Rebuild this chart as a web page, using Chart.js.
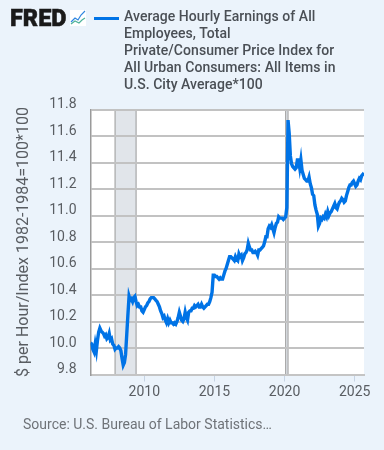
<!DOCTYPE html>
<html>
<head>
<meta charset="utf-8">
<title>FRED chart</title>
<script src="https://cdn.jsdelivr.net/npm/chart.js@4"></script>
<style>
  body { margin: 0; background: #ebf3fb; font-family: Roboto, sans-serif; }
  #wrap { position: relative; width: 384px; height: 450px; overflow: hidden; }
  canvas { position: absolute; left: 0; top: 0; }
  #logo { position: absolute; left: 10px; top: 5px; font: 900 23.5px/26px Roboto, sans-serif; color: #1a1a1a; letter-spacing: 0; -webkit-text-stroke: 0.5px #1a1a1a; }
  #icon { position: absolute; left: 70px; top: 10px; }
  #swatch { position: absolute; left: 94px; top: 16.5px; width: 25px; height: 3px; background: #0073e6; }
  #legend { position: absolute; left: 124px; top: 8px; width: 218px; font: 500 14px/17px Roboto, sans-serif; color: #4a4f55; letter-spacing: 0.05px; }
  #source { position: absolute; left: 23px; top: 416px; font: 400 14px/17px Roboto, sans-serif; color: #6f7378; }
</style>
</head>
<body>
<div id="wrap">
  <canvas id="fredChart" width="384" height="450"></canvas>
  <div id="logo">FRED</div>
  <svg id="icon" width="16" height="16">
    <rect width="16" height="16" fill="#fff"/>
    <polyline points="1,12 5,8 8,10 11,5 15,1" fill="none" stroke="#2f86e0" stroke-width="1.2"/>
    <polyline points="1,14 5,11 9,13 12,10 15,8" fill="none" stroke="#4fb39a" stroke-width="1.2"/>
  </svg>
  <div id="swatch"></div>
  <div id="legend">Average Hourly Earnings of All Employees, Total Private/Consumer Price Index for All Urban Consumers: All Items in U.S. City Average*100</div>
  <div id="source">Source: U.S. Bureau of Labor Statistics…</div>
</div>
<script>
// monthly values, Mar 2006 to Sep 2025
const earnings = [
  10.04, 10.03, 9.99, 9.97, 10.03, 9.98, 10.06, 10.12, 10.15, 10.13,
  10.12, 10.11, 10.09, 10.10, 10.07, 10.08, 10.11, 10.06, 10.07, 10.03, 10.02, 9.99,
  10.00, 10.00, 10.01, 10.00, 9.98, 9.92, 9.87, 9.89, 9.95, 10.10, 10.25, 10.39,
  10.36, 10.37, 10.35, 10.38, 10.39, 10.35, 10.32, 10.33, 10.31, 10.31, 10.28, 10.27,
  10.29, 10.31, 10.32, 10.34, 10.35, 10.37, 10.38, 10.38, 10.38, 10.37, 10.36, 10.35,
  10.33, 10.31, 10.28, 10.26, 10.23, 10.24, 10.21, 10.19, 10.22, 10.19, 10.21, 10.19,
  10.19, 10.18, 10.19, 10.18, 10.20, 10.23, 10.27, 10.24, 10.21, 10.20, 10.22, 10.27,
  10.23, 10.21, 10.27, 10.28, 10.28, 10.30, 10.30, 10.32, 10.31, 10.32, 10.33, 10.31,
  10.31, 10.33, 10.31, 10.30, 10.31, 10.32, 10.33, 10.33, 10.35, 10.38, 10.42, 10.55,
  10.55, 10.54, 10.54, 10.53, 10.52, 10.53, 10.52, 10.52, 10.55, 10.58, 10.60, 10.63,
  10.66, 10.69, 10.69, 10.68, 10.67, 10.66, 10.69, 10.67, 10.66, 10.71, 10.69, 10.70,
  10.66, 10.68, 10.71, 10.72, 10.74, 10.79, 10.76, 10.74, 10.74, 10.72, 10.72, 10.73,
  10.72, 10.70, 10.74, 10.74, 10.75, 10.76, 10.77, 10.80, 10.84, 10.84, 10.90, 10.92,
  10.91, 10.93, 10.90, 10.87, 10.91, 10.94, 10.95, 10.99, 10.98, 10.98, 10.98, 10.97,
  10.98, 10.99, 11.06, 11.72, 11.62, 11.45, 11.39, 11.37, 11.36, 11.35, 11.36, 11.42,
  11.42, 11.36, 11.42, 11.34, 11.31, 11.28, 11.27, 11.26, 11.26, 11.29, 11.24, 11.21,
  11.16, 11.15, 11.08, 11.04, 11.01, 10.92, 10.94, 10.98, 10.97, 10.99, 10.98, 11.01,
  10.99, 11.03, 11.00, 11.02, 11.03, 11.05, 11.07, 11.09, 11.06, 11.05, 11.08, 11.10,
  11.11, 11.13, 11.12, 11.10, 11.11, 11.15, 11.18, 11.21, 11.23, 11.23, 11.25, 11.26,
  11.24, 11.22, 11.23, 11.26, 11.28, 11.27, 11.30, 11.31, 11.30
];
const startYear = 2006 + 2 / 12;
const endYear = 2025 + 8 / 12;
const yearTicks = [2010, 2015, 2020, 2025];
const yMin = 9.8;
const yMax = 11.8;
const recessionStarts = [2007 + 11 / 12, 2020 + 1 / 12];
const recessionEnds = [2009 + 5 / 12, 2020 + 3 / 12];

const points = earnings.map((v, i) => ({ x: startYear + i / 12, y: v }));

// white plot background and the shaded recessions, under the grid lines
const recessionBands = {
  id: 'recessionBands',
  afterUpdate(chart) {
    // FRED puts its y labels above the grid lines, a bit more than baseline bottom gives
    chart.scales.y.getLabelItems().forEach(item => { item.options.translation[1] += 2; });
  },
  beforeDraw(chart) {
    const { ctx, chartArea: a, scales: { x } } = chart;
    ctx.save();
    ctx.fillStyle = '#ffffff';
    ctx.fillRect(a.left, a.top, a.right - a.left, a.bottom - a.top);
    recessionStarts.forEach((start, i) => {
      const x0 = x.getPixelForValue(start);
      const x1 = x.getPixelForValue(recessionEnds[i]);
      ctx.fillStyle = '#e1e5ea';
      ctx.fillRect(x0, a.top, x1 - x0, a.bottom - a.top);
      ctx.strokeStyle = '#999999';
      ctx.lineWidth = 1;
      ctx.strokeRect(x0, a.top, x1 - x0, a.bottom - a.top);
    });
    ctx.restore();
  }
};

const tickFont = { family: 'Roboto', size: 14 };

new Chart(document.getElementById('fredChart'), {
  type: 'line',
  data: {
    datasets: [{
      label: 'Average Hourly Earnings of All Employees, Total Private/Consumer Price Index for All Urban Consumers: All Items in U.S. City Average*100',
      data: points,
      borderColor: '#0073e6',
      borderWidth: 3.4,
      pointRadius: 0,
      tension: 0
    }]
  },
  options: {
    responsive: false,
    animation: false,
    layout: { padding: { top: 109.5, right: 20, left: 0, bottom: 0 } },
    plugins: { legend: { display: false }, tooltip: { enabled: false } },
    scales: {
      x: {
        type: 'linear',
        min: startYear,
        max: endYear,
        afterBuildTicks: scale => { scale.ticks = yearTicks.map(v => ({ value: v })); },
        afterFit: scale => { scale.height = 75.5; },
        border: { color: '#c4c4c4', width: 2 },
        grid: { drawOnChartArea: false, drawTicks: true, tickLength: 7, tickColor: '#c5d3e4' },
        ticks: {
          callback: v => String(v),
          color: '#595d62',
          font: tickFont,
          padding: 3,
          maxRotation: 0,
          autoSkip: false
        }
      },
      y: {
        min: yMin,
        max: yMax,
        afterFit: scale => { scale.width = 90.5; },
        border: { color: '#9a9a9a', width: 1.5 },
        grid: { color: '#c2c2c2', lineWidth: 2, drawTicks: false },
        title: {
          display: true,
          text: '$ per Hour/Index 1982-1984=100*100',
          color: '#595d62',
          font: { family: 'Roboto', size: 16 },
          padding: { top: 14, bottom: 0 }
        },
        ticks: {
          stepSize: 0.2,
          callback: v => Number(v).toFixed(1),
          color: '#595d62',
          font: tickFont,
          padding: 14,
          align: 'end'
        }
      }
    }
  },
  plugins: [recessionBands]
});
</script>
</body>
</html>
